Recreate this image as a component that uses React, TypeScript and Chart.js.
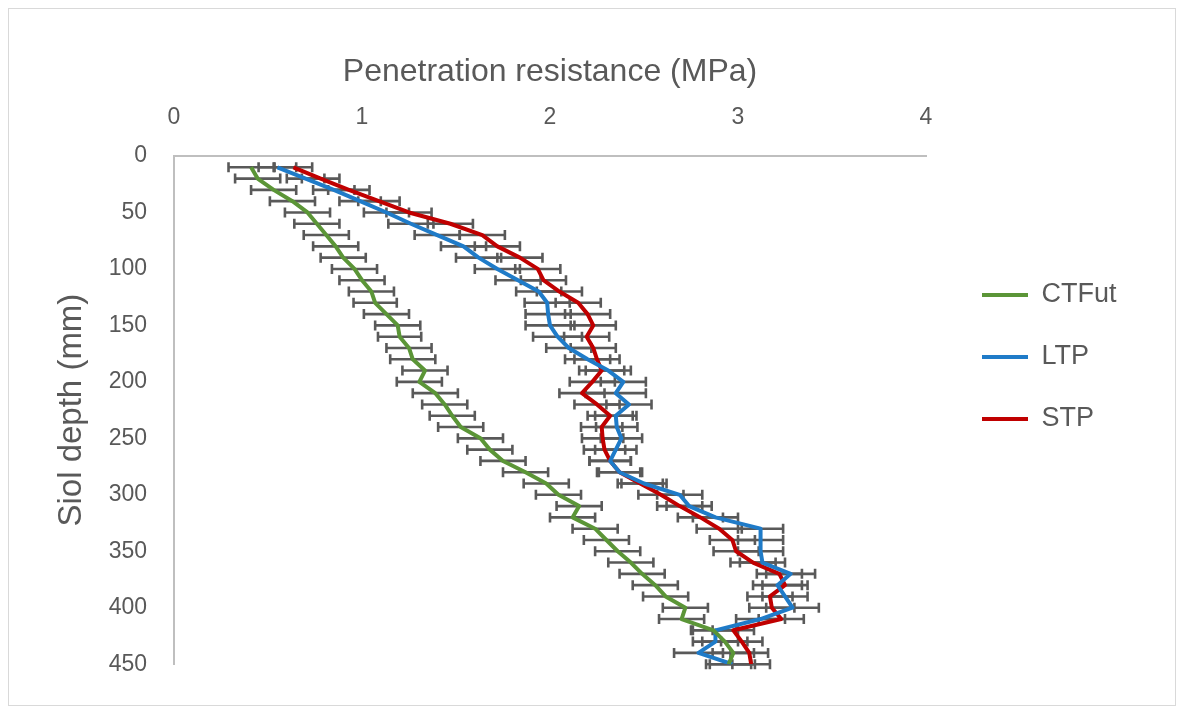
import { useEffect, useRef } from 'react';
import { Chart, registerables } from 'chart.js';

Chart.register(...registerables);

// Sampling depths of the cone penetrometer (mm)
const depthsMm = [
  10, 20, 30, 40, 50, 60, 70, 80, 90, 100, 110, 120, 130, 140, 150,
  160, 170, 180, 190, 200, 210, 220, 230, 240, 250, 260, 270, 280, 290, 300,
  310, 320, 330, 340, 350, 360, 370, 380, 390, 400, 410, 420, 430, 440, 450,
];

const seriesNames = ['CTFut', 'LTP', 'STP'];
const seriesColors = ['#5B9537', '#1F7BC8', '#C00000'];

// Mean penetration resistance (MPa) per depth
const ctfutMpa = [
  0.41, 0.445, 0.53, 0.63, 0.71, 0.76, 0.81, 0.86, 0.9, 0.96, 1.0, 1.05, 1.07, 1.13, 1.19,
  1.2, 1.25, 1.27, 1.335, 1.305, 1.39, 1.44, 1.48, 1.525, 1.63, 1.68, 1.75, 1.87, 1.98, 2.045,
  2.155, 2.12, 2.24, 2.3, 2.36, 2.43, 2.49, 2.56, 2.615, 2.72, 2.7, 2.87, 2.93, 2.975, 2.95,
];
const ltpMpa = [
  0.55, 0.7, 0.85, 0.99, 1.13, 1.26, 1.4, 1.54, 1.62, 1.72, 1.83, 1.94, 1.985, 1.99, 2.0,
  2.04, 2.1, 2.2, 2.31, 2.39, 2.35, 2.42, 2.35, 2.355, 2.38, 2.35, 2.32, 2.37, 2.5, 2.69,
  2.74, 2.88, 3.12, 3.12, 3.12, 3.13, 3.28, 3.21, 3.25, 3.29, 3.12, 2.88, 2.88, 2.79, 2.97,
];
const stpMpa = [
  0.635, 0.78, 0.93, 1.09, 1.25, 1.47, 1.64, 1.72, 1.84, 1.935, 1.965, 2.05, 2.15, 2.2, 2.23,
  2.195, 2.23, 2.25, 2.275, 2.225, 2.17, 2.25, 2.32, 2.275, 2.28, 2.29, 2.32, 2.37, 2.48, 2.59,
  2.69, 2.8, 2.9, 2.97, 2.99, 3.08, 3.22, 3.25, 3.17, 3.18, 3.23, 2.975, 3.02, 3.06, 3.07,
];

// Standard error of each mean (MPa)
const ctfutErr = [
  0.12, 0.12, 0.12, 0.12, 0.12, 0.12, 0.12, 0.12, 0.12, 0.12, 0.12, 0.12, 0.115, 0.12, 0.12,
  0.115, 0.12, 0.12, 0.12, 0.12, 0.12, 0.12, 0.12, 0.12, 0.12, 0.12, 0.12, 0.12, 0.12, 0.12,
  0.12, 0.12, 0.12, 0.12, 0.12, 0.12, 0.12, 0.12, 0.12, 0.12, 0.12, 0.12, 0.12, 0.11, 0.12,
];
const ltpErr = [
  0.1, 0.1, 0.11, 0.11, 0.12, 0.12, 0.12, 0.12, 0.12, 0.12, 0.12, 0.12, 0.12, 0.12, 0.13,
  0.13, 0.12, 0.12, 0.12, 0.12, 0.16, 0.12, 0.11, 0.11, 0.11, 0.11, 0.11, 0.12, 0.12, 0.12,
  0.12, 0.12, 0.12, 0.12, 0.12, 0.12, 0.13, 0.13, 0.12, 0.14, 0.13, 0.12, 0.12, 0.13, 0.12,
];
const stpErr = [
  0.1, 0.1, 0.11, 0.11, 0.12, 0.12, 0.12, 0.12, 0.12, 0.12, 0.12, 0.12, 0.12, 0.12, 0.12,
  0.12, 0.12, 0.12, 0.12, 0.12, 0.12, 0.12, 0.12, 0.11, 0.11, 0.11, 0.11, 0.11, 0.12, 0.12,
  0.12, 0.12, 0.12, 0.12, 0.12, 0.12, 0.12, 0.12, 0.12, 0.12, 0.12, 0.11, 0.11, 0.1, 0.1,
];

const xTickValues = [0, 1, 2, 3, 4];
const yTickValues = [0, 50, 100, 150, 200, 250, 300, 350, 400, 450];

const FONT = "'Liberation Sans', Arial, sans-serif";
const TEXT = '#595959';

// Horizontal error bars with end caps, drawn beneath the lines
const errorBarPlugin = {
  id: 'errorBars',
  beforeDatasetsDraw(chart: any, _args: any, opts: any) {
    const { ctx } = chart;
    const xs = chart.scales.x;
    const ys = chart.scales.y;
    const errs: number[][] = opts.errors || [];
    ctx.save();
    ctx.strokeStyle = opts.color;
    ctx.lineWidth = opts.width;
    ctx.lineCap = 'butt';
    chart.data.datasets.forEach((ds: any, i: number) => {
      const e = errs[i];
      if (!e) return;
      ds.data.forEach((p: any, j: number) => {
        const x0 = xs.getPixelForValue(p.x - e[j]);
        const x1 = xs.getPixelForValue(p.x + e[j]);
        const py = ys.getPixelForValue(p.y);
        const c = opts.cap / 2;
        ctx.beginPath();
        ctx.moveTo(x0, py);
        ctx.lineTo(x1, py);
        ctx.moveTo(x0, py - c);
        ctx.lineTo(x0, py + c);
        ctx.moveTo(x1, py - c);
        ctx.lineTo(x1, py + c);
        ctx.stroke();
      });
    });
    ctx.restore();
  },
};

// Places the legend to the right of the plot, vertically centred
const legendPlacement = {
  id: 'legendPlacement',
  afterLayout(chart: any, _args: any, opts: any) {
    const lg = chart.legend;
    if (!lg) return;
    const pad = lg.options.labels.padding;
    const left = chart.chartArea.right + opts.gap - pad;
    const w = lg.width;
    lg.left = left;
    lg.right = left + w;
    lg.top = 0;
    lg.bottom = chart.height;
    lg.height = chart.height;
    lg.adjustHitBoxes && lg.adjustHitBoxes();
  },
};

export default function App() {
  const canvasRef = useRef<HTMLCanvasElement | null>(null);

  useEffect(() => {
    if (!canvasRef.current) return;
    const values = [ctfutMpa, ltpMpa, stpMpa];
    const datasets = seriesNames.map((name, i) => ({
      label: name,
      data: depthsMm.map((d, j) => ({ x: values[i][j], y: d })),
      borderColor: seriesColors[i],
      backgroundColor: seriesColors[i],
      borderWidth: 4,
      pointRadius: 0,
      pointHoverRadius: 0,
      showLine: true,
      tension: 0,
      borderJoinStyle: 'round' as const,
    }));

    const chart = new Chart(canvasRef.current, {
      type: 'scatter',
      data: { datasets },
      plugins: [errorBarPlugin, legendPlacement],
      options: {
        animation: false,
        responsive: true,
        maintainAspectRatio: false,
        layout: { padding: { left: 0, top: 0, right: 249, bottom: 33 } },
        scales: {
          x: {
            type: 'linear',
            position: 'top',
            min: 0,
            max: 4,
            afterBuildTicks: (s: any) => {
              s.ticks = xTickValues.map((v) => ({ value: v }));
            },
            afterFit: (s: any) => {
              s.height = 147;
            },
            grid: { drawOnChartArea: false, drawTicks: false, color: 'rgba(0,0,0,0)' },
            border: { display: true, color: '#BFBFBF', width: 2 },
            ticks: { color: TEXT, padding: 25, font: { family: FONT, size: 23 } },
            title: {
              display: true,
              text: 'Penetration resistance (MPa)',
              color: TEXT,
              padding: { top: 44, bottom: 0 },
              font: { family: FONT, size: 32 },
            },
          },
          y: {
            type: 'linear',
            reverse: true,
            min: 0,
            max: 450,
            afterBuildTicks: (s: any) => {
              s.ticks = yTickValues.map((v) => ({ value: v }));
            },
            afterFit: (s: any) => {
              s.width = 165;
            },
            grid: { drawOnChartArea: false, drawTicks: false, color: 'rgba(0,0,0,0)' },
            border: { display: true, color: '#BFBFBF', width: 2 },
            ticks: { color: TEXT, padding: 27, font: { family: FONT, size: 23 } },
            title: {
              display: true,
              text: 'Siol depth (mm)',
              color: TEXT,
              padding: { top: 43, bottom: 0 },
              font: { family: FONT, size: 33 },
            },
          },
        },
        plugins: {
          legend: {
            position: 'chartArea' as any,
            align: 'center',
            labels: {
              usePointStyle: true,
              pointStyle: 'line',
              pointStyleWidth: 46,
              padding: 35,
              color: TEXT,
              font: { family: FONT, size: 27 },
            },
          },
          tooltip: { enabled: false },
          errorBars: { errors: [ctfutErr, ltpErr, stpErr], color: '#595959', width: 2.6, cap: 10 },
          legendPlacement: { gap: 56 },
        } as any,
      },
    });
    return () => chart.destroy();
  }, []);

  return (
    <div
      style={{
        width: 1168,
        height: 698,
        border: '1px solid #D9D9D9',
        boxSizing: 'border-box',
        position: 'relative',
        background: '#FFFFFF',
      }}
    >
      <canvas ref={canvasRef} />
    </div>
  );
}
